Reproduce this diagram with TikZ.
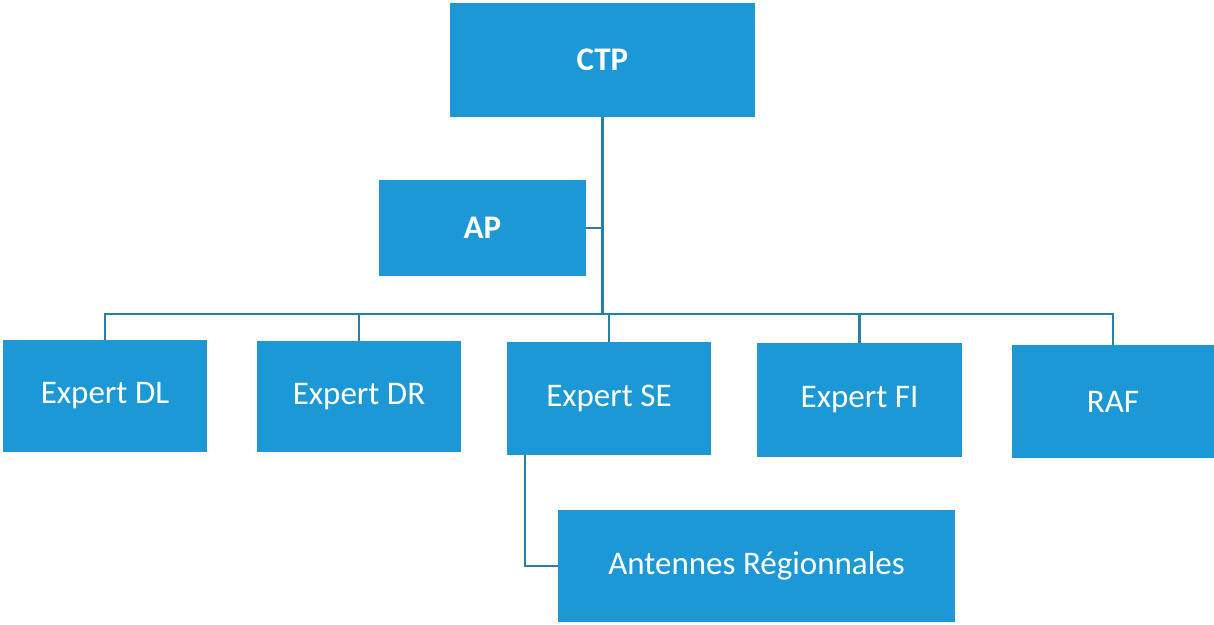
\documentclass[tikz,border=0pt]{standalone}
\usepackage{fontspec}
\setmainfont{Carlito}
\usetikzlibrary{calc}
\definecolor{boxblue}{RGB}{27,152,213}
\definecolor{linkblue}{RGB}{38,128,172}
\tikzset{
  unit/.style={draw=none, fill=boxblue, text=white, inner sep=0pt,
    font=\fontsize{33}{38}\selectfont},
  head/.style={unit, font=\fontsize{33}{38}\selectfont\bfseries},
  link/.style={draw=linkblue, line width=2.4pt}
}
\begin{document}
\begin{tikzpicture}[x=1pt, y=-1pt]
\useasboundingbox (0,0) rectangle (1214,624);

% boxes
\node[head, minimum width=305pt, minimum height=114pt] (CTP) at (602.5,60) {CTP};
\node[head, minimum width=207pt, minimum height=96pt]  (AP)  at (482.5,228) {AP};
\node[unit, minimum width=204pt, minimum height=112pt] (DL)  at (105,396) {Expert DL};
\node[unit, minimum width=204pt, minimum height=111pt] (DR)  at (359,396.5) {Expert DR};
\node[unit, minimum width=204pt, minimum height=113pt] (SE)  at (609,398.5) {Expert SE};
\node[unit, minimum width=205pt, minimum height=114pt] (FI)  at (859.5,400) {Expert FI};
\node[unit, minimum width=202pt, minimum height=113pt] (RAF) at (1113,401.5) {RAF};
\node[unit, minimum width=397pt, minimum height=112pt] (ANT) at (756.5,566) {Antennes Régionnales};

% horizontal bus level
\coordinate (bus) at (0,314);

% trunk from CTP down to the bus, with the AP side branch
\draw[link] (CTP.south) -- (CTP.south |- bus);
\draw[link] (AP.east) -- (AP.east -| CTP.south);

% bus and drops to the experts
\draw[link] (DL.north) -- (DL.north |- bus) -- (RAF.north |- bus) -- (RAF.north);
\draw[link] (DR.north) -- (DR.north |- bus);
\draw[link] (SE.north) -- (SE.north |- bus);
\draw[link] (FI.north) -- (FI.north |- bus);

% Expert SE to the regional antennas
\coordinate (seleg) at ($(SE.south west)+(18,0)$);
\draw[link] (seleg) |- (ANT.west);
\end{tikzpicture}
\end{document}
